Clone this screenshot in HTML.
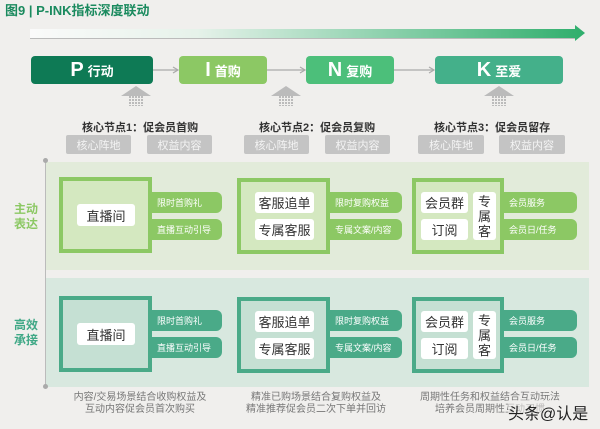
<!DOCTYPE html>
<html><head><meta charset="utf-8"><style>
*{margin:0;padding:0;box-sizing:border-box}
body{width:600px;height:429px;background:#f0efed;position:relative;overflow:hidden;font-family:"Liberation Sans","Noto Sans CJK SC",sans-serif}
.a{position:absolute}
.c{display:flex;align-items:center;justify-content:center;text-align:center}
.top{color:#fff;font-weight:bold;border-radius:4px;height:28px;top:56px;font-size:13px}
.top b{font-size:20px;margin-right:4px}
.gb{background:#c4c4c4;color:#f4f4f4;font-size:11px;height:19px;top:135px;border-radius:2px}
.lbl{font-size:11px;font-weight:bold;color:#333;top:119px;white-space:nowrap}
.wb{background:#fff;color:#333;font-size:13px;border-radius:3px}
.tab{color:#fff;font-size:9px;border-radius:0 6px 6px 0;height:21px;justify-content:flex-start;padding-left:5px;white-space:nowrap}
.bt{font-size:10px;color:#777;line-height:12px;top:392px;white-space:nowrap}
</style></head><body>
<div class="a" style="left:5px;top:0;font-size:13px;font-weight:bold;color:#1a8a5e">图9 | P-INK指标深度联动</div>
<svg class="a" style="left:0;top:0" width="600" height="160">
<defs><linearGradient id="g" x1="0" x2="1"><stop offset="0" stop-color="#fafafa"/><stop offset="0.3" stop-color="#e6f2ea"/><stop offset="1" stop-color="#2fae6c"/></linearGradient>
<pattern id="h" width="3" height="3" patternUnits="userSpaceOnUse"><rect width="2" height="2" fill="#bbb"/></pattern></defs>
<polygon points="30,29 575,29 575,25 585,33 575,41 575,38 30,38" fill="url(#g)"/>
<line x1="30" y1="38.5" x2="575" y2="38.5" stroke="#bbb" stroke-width="1"/>
<g stroke="#aaa" stroke-width="1.2" fill="none">
<line x1="153" y1="70" x2="178" y2="70"/><polyline points="173,67 178,70 173,73"/>
<line x1="267" y1="70" x2="305" y2="70"/><polyline points="300,67 305,70 300,73"/>
<line x1="394" y1="70" x2="434" y2="70"/><polyline points="429,67 434,70 429,73"/>
</g>
<g fill="#bbb">
<polygon points="121,96 136,86 151,96"/><rect x="128" y="96" width="16" height="10" fill="url(#h)"/>
<polygon points="271,96 286,86 301,96"/><rect x="278" y="96" width="16" height="10" fill="url(#h)"/>
<polygon points="484,96 499,86 514,96"/><rect x="491" y="96" width="16" height="10" fill="url(#h)"/>
</g>
</svg>
<div class="a c top" style="left:31px;width:122px;background:#0e7a55"><b>P</b>行动</div>
<div class="a c top" style="left:179px;width:88px;background:#8cc864"><b>I</b>首购</div>
<div class="a c top" style="left:306px;width:88px;background:#4cbf7a"><b>N</b>复购</div>
<div class="a c top" style="left:435px;width:128px;background:#44b08a"><b>K</b>至爱</div>
<div class="a lbl" style="left:82px">核心节点1：促会员首购</div>
<div class="a lbl" style="left:259px">核心节点2：促会员复购</div>
<div class="a lbl" style="left:434px">核心节点3：促会员留存</div>
<div class="a c gb" style="left:66px;width:65px">核心阵地</div>
<div class="a c gb" style="left:147px;width:65px">权益内容</div>
<div class="a c gb" style="left:244px;width:65px">核心阵地</div>
<div class="a c gb" style="left:325px;width:65px">权益内容</div>
<div class="a c gb" style="left:418px;width:66px">核心阵地</div>
<div class="a c gb" style="left:499px;width:66px">权益内容</div>

<div class="a" style="left:46px;top:162px;width:543px;height:108px;background:#e2ebda"></div>
<div class="a" style="left:46px;top:278px;width:543px;height:109px;background:#d8e8df"></div>
<div class="a" style="left:45px;top:160px;width:1px;height:228px;background:#bbb"></div>
<div class="a" style="left:43px;top:158px;width:5px;height:5px;border-radius:50%;background:#aaa"></div>
<div class="a" style="left:43px;top:384px;width:5px;height:5px;border-radius:50%;background:#aaa"></div>
<div class="a" style="left:14px;top:202px;font-size:12px;font-weight:bold;color:#8cc864;line-height:15px">主动<br>表达</div>
<div class="a" style="left:14px;top:318px;font-size:12px;font-weight:bold;color:#3fa886;line-height:15px">高效<br>承接</div>

<!-- row 1 -->
<div class="a" style="left:59px;top:177px;width:93px;height:76px;border:4px solid #8cc864;background:#d4e8c0"></div>
<div class="a c wb" style="left:77px;top:204px;width:58px;height:22px">直播间</div>
<div class="a c tab" style="left:152px;top:192px;width:70px;background:#8cc864">限时首购礼</div>
<div class="a c tab" style="left:152px;top:219px;width:70px;background:#8cc864">直播互动引导</div>
<div class="a" style="left:237px;top:178px;width:93px;height:76px;border:4px solid #8cc864;background:#d4e8c0"></div>
<div class="a c wb" style="left:255px;top:192px;width:59px;height:21px">客服追单</div>
<div class="a c wb" style="left:255px;top:219px;width:59px;height:21px">专属客服</div>
<div class="a c tab" style="left:330px;top:192px;width:72px;background:#8cc864">限时复购权益</div>
<div class="a c tab" style="left:330px;top:219px;width:72px;background:#8cc864">专属文案/内容</div>
<div class="a" style="left:412px;top:178px;width:92px;height:76px;border:4px solid #8cc864;background:#d4e8c0"></div>
<div class="a c wb" style="left:421px;top:192px;width:47px;height:21px">会员群</div>
<div class="a c wb" style="left:421px;top:219px;width:47px;height:21px">订阅</div>
<div class="a c wb" style="left:473px;top:192px;width:23px;height:48px;line-height:15px">专<br>属<br>客</div>
<div class="a c tab" style="left:504px;top:192px;width:73px;background:#8cc864">会员服务</div>
<div class="a c tab" style="left:504px;top:219px;width:73px;background:#8cc864">会员日/任务</div>

<!-- row 2 -->
<div class="a" style="left:59px;top:296px;width:93px;height:76px;border:4px solid #4aaa88;background:#c5e0d3"></div>
<div class="a c wb" style="left:77px;top:323px;width:58px;height:22px">直播间</div>
<div class="a c tab" style="left:152px;top:310px;width:70px;background:#4aaa88">限时首购礼</div>
<div class="a c tab" style="left:152px;top:337px;width:70px;background:#4aaa88">直播互动引导</div>
<div class="a" style="left:237px;top:297px;width:93px;height:76px;border:4px solid #4aaa88;background:#c5e0d3"></div>
<div class="a c wb" style="left:255px;top:311px;width:59px;height:21px">客服追单</div>
<div class="a c wb" style="left:255px;top:338px;width:59px;height:21px">专属客服</div>
<div class="a c tab" style="left:330px;top:310px;width:72px;background:#4aaa88">限时复购权益</div>
<div class="a c tab" style="left:330px;top:337px;width:72px;background:#4aaa88">专属文案/内容</div>
<div class="a" style="left:412px;top:297px;width:92px;height:76px;border:4px solid #4aaa88;background:#c5e0d3"></div>
<div class="a c wb" style="left:421px;top:311px;width:47px;height:21px">会员群</div>
<div class="a c wb" style="left:421px;top:338px;width:47px;height:21px">订阅</div>
<div class="a c wb" style="left:473px;top:311px;width:23px;height:48px;line-height:15px">专<br>属<br>客</div>
<div class="a c tab" style="left:504px;top:310px;width:73px;background:#4aaa88">会员服务</div>
<div class="a c tab" style="left:504px;top:337px;width:73px;background:#4aaa88">会员日/任务</div>

<div class="a bt" style="left:140px;transform:translateX(-50%);text-align:center">内容/交易场景结合收购权益及<br>互动内容促会员首次购买</div>
<div class="a bt" style="left:316px;transform:translateX(-50%);text-align:center">精准已购场景结合复购权益及<br>精准推荐促会员二次下单并回访</div>
<div class="a bt" style="left:490px;transform:translateX(-50%);text-align:center">周期性任务和权益结合互动玩法<br>培养会员周期性互动习惯</div>
<div class="a" style="left:508px;top:400px;font-size:16px;color:#222;white-space:nowrap;background:rgba(240,239,237,0.6)">头条@认是</div>
</body></html>
